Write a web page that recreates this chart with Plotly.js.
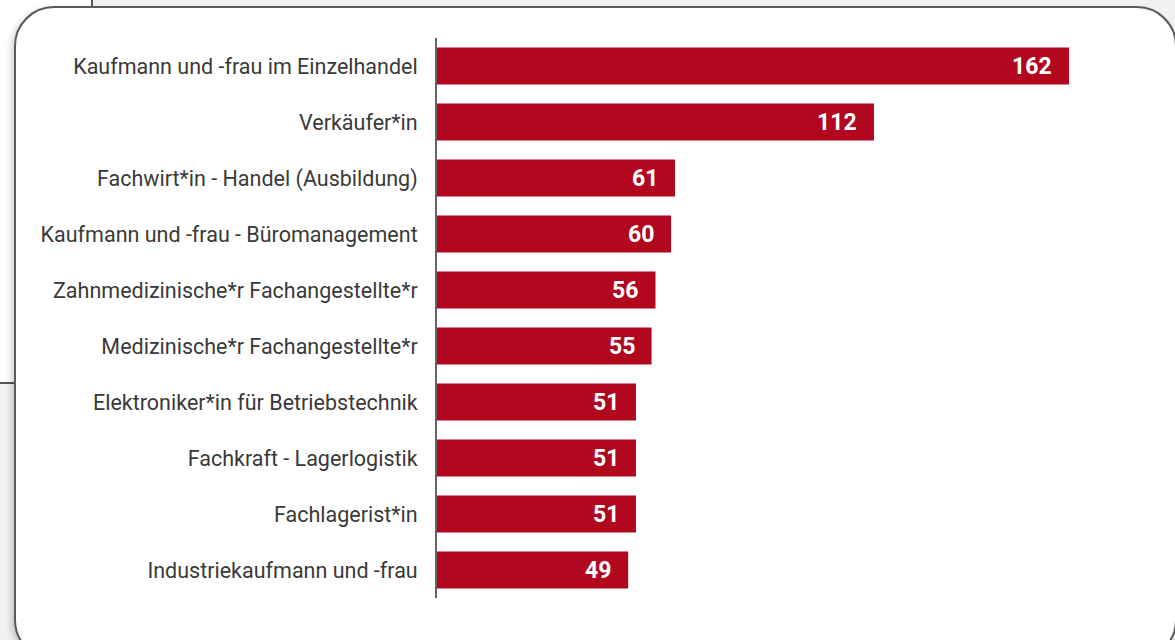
<!DOCTYPE html>
<html>
<head>
<meta charset="utf-8">
<script src="https://cdn.plot.ly/plotly-3.0.1.min.js"></script>
<style>
  html, body { margin: 0; padding: 0; }
  body { width: 1175px; height: 640px; background: #f0f1f3; position: relative; overflow: hidden; font-family: Roboto, sans-serif; }
  #backcard { position: absolute; left: -10px; top: -10px; width: 101px; height: 392px; background: #fff; border-right: 2px solid #555; border-bottom: 2px solid #555; }
  #card { position: absolute; left: 14px; top: 6px; width: 1159px; height: 650px; background: #fff; border: 2px solid #5a5a5a; border-radius: 40px; box-shadow: -3px 3px 6px rgba(0,0,0,0.18); }
  #plotDiv { position: absolute; left: 0; top: 0; width: 1175px; height: 640px; }
</style>
</head>
<body>
<div id="backcard"></div>
<div id="card"></div>
<div id="plotDiv"></div>
<script>
// Ausbildungsberufe
var berufe = [
    "Kaufmann und -frau im Einzelhandel",
    "Verkäufer*in",
    "Fachwirt*in - Handel (Ausbildung)",
    "Kaufmann und -frau - Büromanagement",
    "Zahnmedizinische*r Fachangestellte*r",
    "Medizinische*r Fachangestellte*r",
    "Elektroniker*in für Betriebstechnik",
    "Fachkraft - Lagerlogistik",
    "Fachlagerist*in",
    "Industriekaufmann und -frau"
];
// Anzahl
var anzahl = [162, 112, 61, 60, 56, 55, 51, 51, 51, 49];

var farbe = "#b10820";

var trace1 = {
    x: anzahl,
    y: berufe,
    type: "bar",
    orientation: "h",
    marker: {color: farbe},
    hoverinfo: "none"
};

// Werte am Balkenende
var notes = anzahl.map(function (v, i) {
    return {
        x: v, y: berufe[i], xref: "x", yref: "y",
        text: "<b>" + v + "</b>", showarrow: false,
        xanchor: "right", xshift: -15,
        font: {family: "Roboto", size: 23, color: "#fff"}
    };
});

var layout = {
    width: 1175,
    height: 640,
    margin: {l: 437, r: 65, t: 38, b: 42},
    paper_bgcolor: "rgba(0,0,0,0)",
    plot_bgcolor: "rgba(0,0,0,0)",
    bargap: 0.34,
    showlegend: false,
    xaxis: {range: [0, 172.5], visible: false, fixedrange: true},
    yaxis: {
        autorange: "reversed",
        showline: true, linecolor: "#666", linewidth: 2,
        showgrid: false, zeroline: false, ticks: "",
        ticklabelstandoff: 13,
        tickfont: {family: "Roboto", size: 21.5, color: "#3a3a3a"}
    },
    annotations: notes
};

Plotly.newPlot("plotDiv", [trace1], layout, {displayModeBar: false, staticPlot: true});
</script>
</body>
</html>
